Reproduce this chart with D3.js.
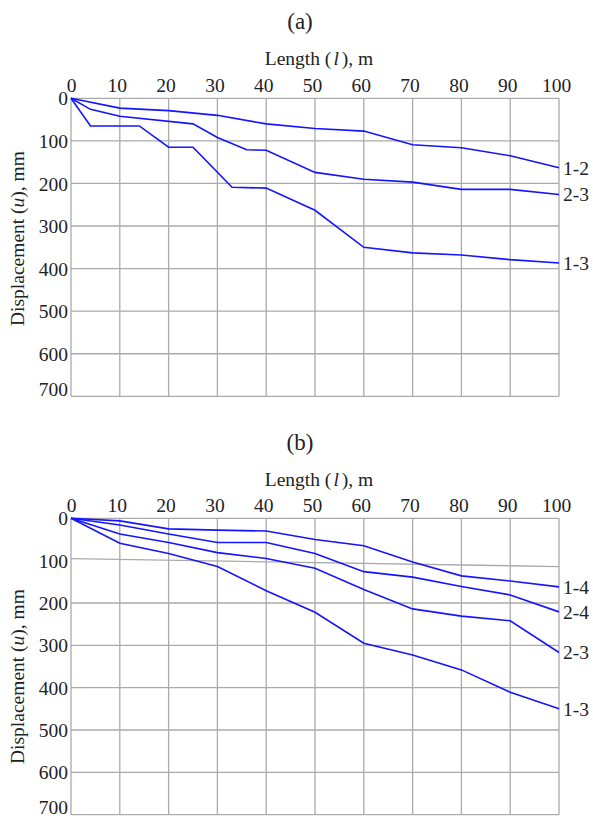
<!DOCTYPE html>
<html>
<head>
<meta charset="utf-8">
<script src="https://cdn.jsdelivr.net/npm/d3@7"></script>
<style>
  body { margin: 0; background: #fff; }
  text { font-family: "Liberation Serif", "Times New Roman", serif; fill: #222; font-size: 19.5px; }
  .title { font-size: 23px; }
  .grid { stroke: #aaa; stroke-width: 1.3; fill: none; }
  .curve { stroke: #1414ff; stroke-width: 1.6; fill: none; }
</style>
</head>
<body>
<svg id="chart" width="593" height="820"></svg>
<script>
// шкалы
const lengthTicks = [0, 10, 20, 30, 40, 50, 60, 70, 80, 90, 100];
const dispTicks = [0, 100, 200, 300, 400, 500, 600, 700];

// панель (a)
const lenA12 = [0, 10, 20, 30, 40, 50, 60, 70, 80, 90, 100];
const dispA12 = [0, 23, 29, 40, 60, 71, 77, 109, 116, 135, 163];
const lenA23 = [0, 4, 10, 25, 30, 36, 40, 50, 60, 70, 80, 90, 100];
const dispA23 = [0, 26, 42, 60, 92, 121, 122, 174, 190, 197, 214, 214, 226];
const lenA13 = [0, 4, 14, 20, 25, 33, 40, 50, 60, 70, 80, 90, 100];
const dispA13 = [0, 65, 65, 115, 115, 209, 211, 263, 350, 363, 368, 379, 387];

// панель (b)
const lenB = [0, 10, 20, 30, 40, 50, 60, 70, 80, 90, 100];
const dispB14 = [0, 6, 25, 28, 30, 50, 65, 103, 136, 148, 162];
const dispB24 = [0, 16, 37, 57, 57, 83, 126, 139, 161, 181, 221];
const dispB23 = [0, 37, 57, 81, 95, 118, 168, 214, 231, 242, 317];
const dispB13 = [0, 59, 83, 114, 171, 222, 295, 323, 358, 411, 450];

// в (b) линия сетки 100 идёт с наклоном: [слева, справа]
const gridB = dispTicks.map(d => d === 100 ? [95, 114] : [d, d]);
const gridA = dispTicks.map(d => [d, d]);

const panels = [
  {
    title: "(a)", titleY: 28.5, axisTitleY: 65, top: 98.3, bottom: 396.3, yLabelY: 238.5, grid: gridA,
    series: [
      { name: "1-2", len: lenA12, disp: dispA12 },
      { name: "2-3", len: lenA23, disp: dispA23 },
      { name: "1-3", len: lenA13, disp: dispA13 }
    ]
  },
  {
    title: "(b)", titleY: 450, axisTitleY: 486, top: 518.3, bottom: 814.7, yLabelY: 676.5, grid: gridB,
    series: [
      { name: "1-4", len: lenB, disp: dispB14 },
      { name: "2-4", len: lenB, disp: dispB24 },
      { name: "2-3", len: lenB, disp: dispB23 },
      { name: "1-3", len: lenB, disp: dispB13 }
    ]
  }
];

const svg = d3.select("#chart");
const left = 71, right = 559;
const x = d3.scaleLinear().domain([0, 100]).range([left, right]);

panels.forEach(p => {
  const y = d3.scaleLinear().domain([0, 700]).range([p.top, p.bottom]);
  const g = svg.append("g");

  // сетка
  g.selectAll(".vgrid")
    .data(lengthTicks)
    .enter().append("line")
    .attr("class", "grid")
    .attr("x1", d => x(d)).attr("x2", d => x(d))
    .attr("y1", p.top).attr("y2", p.bottom);

  g.selectAll(".hgrid")
    .data(p.grid)
    .enter().append("line")
    .attr("class", "grid")
    .attr("x1", left).attr("x2", right)
    .attr("y1", d => y(d[0])).attr("y2", d => y(d[1]));

  // оси
  const xa = g.append("g")
    .attr("transform", `translate(0,${p.top})`)
    .call(d3.axisTop(x).tickValues(lengthTicks).tickSize(0).tickPadding(6));
  xa.select(".domain").remove();
  xa.attr("font-size", null).attr("font-family", null);
  xa.selectAll("text").attr("dx", d => d ? -3 : 0);

  const ya = g.append("g")
    .attr("transform", `translate(${left},0)`)
    .call(d3.axisLeft(y).tickValues(dispTicks).tickSize(0).tickPadding(3));
  ya.select(".domain").remove();
  ya.attr("font-size", null).attr("font-family", null);
  // нижняя подпись приподнята, чтобы не обрезалась
  ya.selectAll("text").attr("dy", d => d === 700 ? "-0.05em" : "0.34em");

  // кривые
  const line = d3.line().x(d => x(d[0])).y(d => y(d[1]));
  g.selectAll(".curve")
    .data(p.series)
    .enter().append("path")
    .attr("class", "curve")
    .attr("d", s => line(s.len.map((l, i) => [l, s.disp[i]])));

  g.selectAll(".end-label")
    .data(p.series)
    .enter().append("text")
    .attr("x", s => x(s.len[s.len.length - 1]) + 4)
    .attr("y", s => y(s.disp[s.disp.length - 1]))
    .attr("dy", "0.35em")
    .text(s => s.name);

  // подписи
  g.append("text")
    .attr("class", "title")
    .attr("x", 300).attr("y", p.titleY)
    .attr("text-anchor", "middle")
    .text(p.title);

  const xt = g.append("text")
    .attr("x", 319).attr("y", p.axisTitleY)
    .attr("text-anchor", "middle");
  xt.append("tspan").text("Length (");
  xt.append("tspan").attr("font-style", "italic").attr("dx", 2).text("l");
  xt.append("tspan").attr("dx", 3).text("), m");

  const yt = g.append("text")
    .attr("transform", `translate(23.5,${p.yLabelY}) rotate(-90)`)
    .attr("text-anchor", "middle");
  yt.append("tspan").text("Displacement (");
  yt.append("tspan").attr("font-style", "italic").text("u");
  yt.append("tspan").text("), mm");
});
</script>
</body>
</html>
